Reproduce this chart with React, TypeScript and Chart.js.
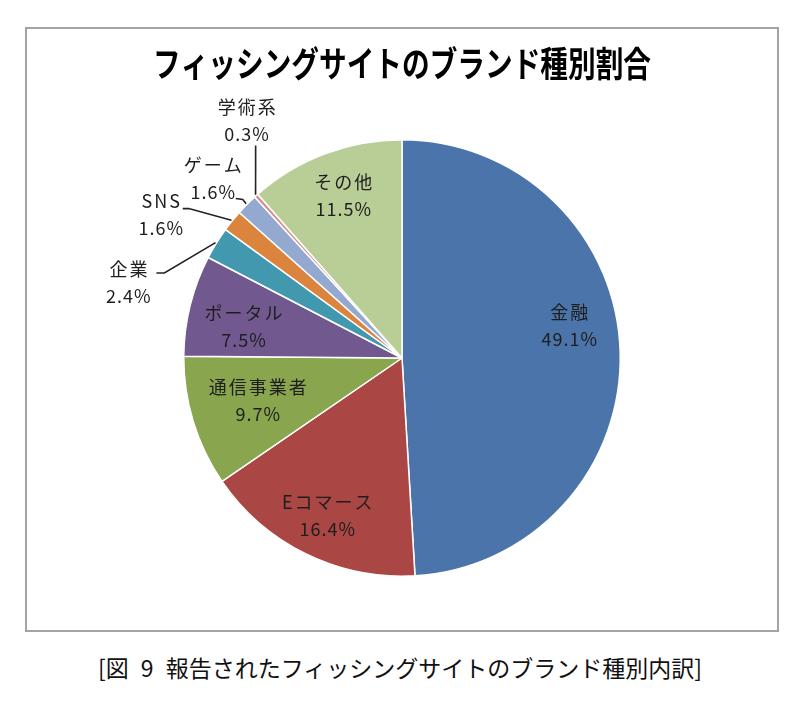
import React, { useEffect, useRef } from 'react';
import { Chart, registerables } from 'chart.js';

Chart.register(...registerables);

const chartTitle = 'フィッシングサイトのブランド種別割合';
const captionText = '[図 9 報告されたフィッシングサイトのブランド種別内訳]';

const categories = ['金融', 'Eコマース', '通信事業者', 'ポータル', '企業', 'SNS', 'ゲーム', '学術系', 'その他'];
const shares = [49.1, 16.4, 9.7, 7.5, 2.4, 1.6, 1.6, 0.3, 11.5];
const sliceColors = ['#4a74aa', '#aa4643', '#89a54e', '#71588f', '#4198af', '#db843d', '#93a9cf', '#d19392', '#b9cd96'];

// label layout: angle shift from slice middle (deg), radius factor
const labelAngleShift = [-9.1, -0.7, 0.4, -2.9, -16.4, -8.2, -1.2, 8.7, 0.8];
const labelRadius = [0.78, 0.8, 0.69, 0.74, 1.3, 1.286, 1.195, 1.3, 0.79];
// leader line: attach & elbow offsets relative to label centre (null = inside label)
const leaderAttach: ([number, number, number, number] | null)[] = [
  null, null, null, null,
  [28, -10, 36, -10],
  [22, -6, 28, -6],
  [23, 20, 30, 21],
  [9, 25, 9, 25],
  null,
];

const FONT = '"Noto Sans CJK JP", "Noto Sans", sans-serif';

const titlePlugin = {
  id: 'spacedTitle',
  afterDraw(chart: any) {
    const ctx = chart.ctx as CanvasRenderingContext2D;
    ctx.save();
    ctx.fillStyle = '#000';
    ctx.font = `bold 35px ${FONT}`;
    (ctx as any).letterSpacing = '0px';
    ctx.textAlign = 'center';
    ctx.textBaseline = 'middle';
    const cx = (chart.chartArea.left + chart.chartArea.right) / 2;
    const w = ctx.measureText(chartTitle).width;
    const sx = 498 / w;
    ctx.translate(cx, 64);
    ctx.scale(sx, 1);
    ctx.fillText(chartTitle, 0, 0);
    ctx.restore();
  },
};

const labelPlugin = {
  id: 'sliceLabels',
  afterDatasetsDraw(chart: any) {
    const ctx = chart.ctx as CanvasRenderingContext2D;
    const meta = chart.getDatasetMeta(0);
    ctx.save();
    meta.data.forEach((arc: any, i: number) => {
      const p = arc.getProps(['x', 'y', 'startAngle', 'endAngle', 'outerRadius'], true);
      const mid = (p.startAngle + p.endAngle) / 2;
      const a = mid + (labelAngleShift[i] * Math.PI) / 180;
      const rr = p.outerRadius * labelRadius[i];
      const cx = p.x + Math.cos(a) * rr;
      const cy = p.y + Math.sin(a) * rr;
      const lead = leaderAttach[i];
      if (lead) {
        const ex = p.x + Math.cos(mid) * (p.outerRadius + 1);
        const ey = p.y + Math.sin(mid) * (p.outerRadius + 1);
        ctx.strokeStyle = '#222';
        ctx.lineWidth = 1.6;
        ctx.beginPath();
        ctx.moveTo(cx + lead[0], cy + lead[1]);
        ctx.lineTo(cx + lead[2], cy + lead[3]);
        ctx.lineTo(ex, ey);
        ctx.stroke();
      }
      ctx.fillStyle = '#1e1e1e';
      ctx.font = `18px ${FONT}`;
      ctx.textAlign = 'center';
      ctx.textBaseline = 'middle';
      (ctx as any).letterSpacing = '2px';
      ctx.fillText(categories[i], cx + 1, cy - 13.5);
      (ctx as any).letterSpacing = '1px';
      ctx.fillText(shares[i].toFixed(1) + '%', cx + 0.5, cy + 13.5);
    });
    ctx.restore();
  },
};

export default function App() {
  const ref = useRef<HTMLCanvasElement | null>(null);
  useEffect(() => {
    if (!ref.current) return;
    const chart = new Chart(ref.current, {
      type: 'pie',
      data: {
        labels: categories,
        datasets: [
          {
            data: shares,
            backgroundColor: sliceColors,
            borderColor: '#ffffff',
            borderWidth: 1.5,
          },
        ],
      },
      options: {
        responsive: false,
        animation: false,
        layout: { padding: { left: 183, right: 179, top: 139, bottom: 63 } },
        plugins: {
          legend: { display: false },
          tooltip: { enabled: false },
          title: { display: false },
        },
      },
      plugins: [labelPlugin, titlePlugin],
    });
    return () => chart.destroy();
  }, []);

  return (
    <div style={{ position: 'absolute', left: 0, top: 0, width: 800, height: 702, background: '#fff' }}>
      <div
        style={{
          position: 'absolute',
          left: 25,
          top: 27,
          width: 754,
          height: 605,
          boxSizing: 'border-box',
          border: '2px solid #a3a3a3',
          background: '#fff',
        }}
      />
      <canvas ref={ref} width={800} height={640} style={{ position: 'absolute', left: 0, top: 0, width: 800, height: 640 }} />
      <div
        style={{
          position: 'absolute',
          left: 0,
          top: 651,
          width: 800,
          textAlign: 'center',
          fontFamily: FONT,
          fontSize: 23,
          lineHeight: '32px',
          wordSpacing: 7,
          color: '#111',
        }}
      >
        {captionText}
      </div>
    </div>
  );
}
